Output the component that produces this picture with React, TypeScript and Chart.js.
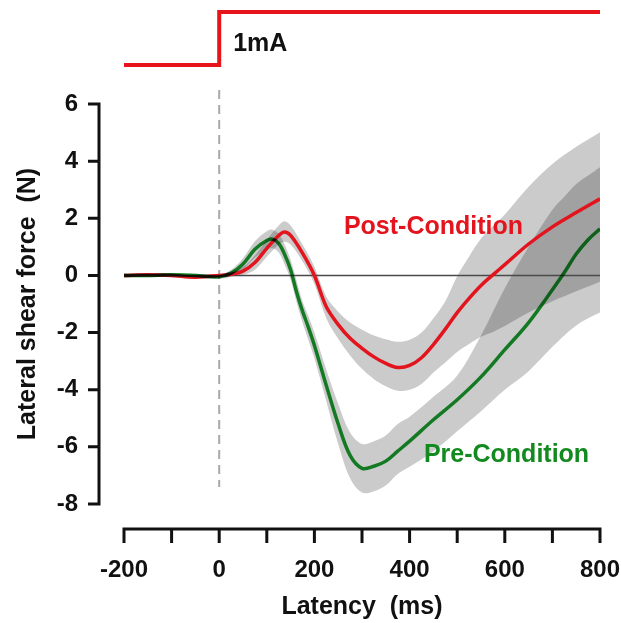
import React, { useEffect, useRef } from 'react';
import { Chart, registerables } from 'chart.js';

Chart.register(...registerables);

// ---- data (latency in ms, lateral shear force in N) ----
const postX = [-200, -150, -100, -50, 0, 25, 50, 75, 100, 125, 137, 150, 175, 200, 225, 250, 275, 300, 325, 350, 375, 400, 425, 450, 475, 500, 525, 550, 575, 600, 650, 700, 750, 800];
const postMean = [0, 0.02, 0, -0.06, 0, 0.04, 0.15, 0.45, 0.95, 1.4, 1.52, 1.4, 0.78, 0, -1.1, -1.72, -2.2, -2.55, -2.85, -3.08, -3.22, -3.15, -2.88, -2.42, -1.88, -1.3, -0.8, -0.35, 0.02, 0.38, 1.1, 1.7, 2.2, 2.68];
const postUpper = [0.06, 0.08, 0.06, 0.0, 0.06, 0.14, 0.3, 0.7, 1.25, 1.75, 1.9, 1.75, 1.08, 0.3, -0.75, -1.27, -1.65, -1.9, -2.1, -2.23, -2.32, -2.25, -2.0, -1.5, -0.9, -0.03, 0.66, 1.29, 1.72, 2.13, 3.1, 3.9, 4.5, 5.01];
const postLower = [-0.06, -0.04, -0.06, -0.12, -0.06, -0.04, 0.02, 0.2, 0.65, 1.08, 1.18, 1.08, 0.5, -0.3, -1.5, -2.22, -2.8, -3.27, -3.63, -3.88, -4.04, -4.0, -3.8, -3.4, -3.05, -2.68, -2.4, -2.15, -1.98, -1.77, -1.3, -0.9, -0.55, -0.22];

const preX = [-200, -150, -100, -50, 0, 25, 50, 75, 100, 112, 125, 137, 150, 162, 175, 187, 200, 225, 250, 275, 300, 325, 350, 375, 400, 450, 500, 550, 600, 650, 700, 725, 750, 775, 800];
const preMean = [0, 0, 0.02, 0, -0.05, 0.08, 0.4, 0.92, 1.22, 1.27, 1.12, 0.75, 0.2, -0.55, -1.25, -1.8, -2.45, -3.85, -5.2, -6.3, -6.75, -6.68, -6.5, -6.15, -5.8, -5.05, -4.35, -3.55, -2.6, -1.65, -0.5, 0.1, 0.75, 1.25, 1.63];
const preUpper = [0.06, 0.06, 0.08, 0.06, 0.02, 0.2, 0.6, 1.2, 1.55, 1.6, 1.45, 1.1, 0.55, -0.15, -0.9, -1.4, -2.0, -3.3, -4.5, -5.5, -5.9, -5.8, -5.6, -5.2, -4.95, -4.25, -3.5, -2.1, -0.45, 1.0, 2.3, 2.75, 3.2, 3.5, 3.79];
const preLower = [-0.06, -0.06, -0.04, -0.06, -0.12, -0.04, 0.2, 0.62, 0.9, 0.95, 0.8, 0.4, -0.15, -0.9, -1.65, -2.25, -2.9, -4.4, -5.9, -7.1, -7.6, -7.55, -7.35, -6.95, -6.7, -6.15, -5.45, -4.75, -4.0, -3.35, -2.5, -2.1, -1.75, -1.5, -1.3];

const zeroX = [-200, 800];
const zeroY = [0, 0];

const xLabelTicks = [-200, 0, 200, 400, 600, 800];
const xMinorTicks = [-200, -100, 0, 100, 200, 300, 400, 500, 600, 700, 800];
const yTicks = [-8, -6, -4, -2, 0, 2, 4, 6];

const stimTimes = [-200, 0, 0, 800];
const stimLevel = [0, 0, 1, 1];
const stimText = '1mA';

const seriesNames = ['Post-Condition', 'Pre-Condition'];
const xTitle = 'Latency  (ms)';
const yTitle = 'Lateral shear force  (N)';

const RED = '#e3141d';
const GREEN = '#17982a';
const LABEL_GREEN = '#138a1f';
const BAND = '#cbcbcb';
const FONT = "'Liberation Sans', Arial, Helvetica, sans-serif";

const pts = (xs: number[], ys: number[]) => xs.map((x, i) => ({ x, y: ys[i] }));

const decor = {
  id: 'decor',
  beforeDatasetsDraw(chart: any) {
    const { ctx, chartArea, scales } = chart;
    const x0 = scales.x.getPixelForValue(stimTimes[1]);
    ctx.save();
    ctx.strokeStyle = '#a9a9a9';
    ctx.lineWidth = 2;
    ctx.setLineDash([9, 6]);
    ctx.beginPath();
    ctx.moveTo(x0, chartArea.top - 14);
    ctx.lineTo(x0, chartArea.bottom - 17);
    ctx.stroke();
    ctx.restore();
    // bands blend with each other (overlap darker)
    ctx.globalCompositeOperation = 'multiply';
  },
  beforeDatasetDraw(chart: any, args: any) {
    if (args.index === 4 || args.index === 5) chart.ctx.globalCompositeOperation = 'source-over';
    if (args.index === 6) chart.ctx.globalCompositeOperation = 'multiply';
  },
  afterDatasetsDraw(chart: any) {
    const { ctx, scales } = chart;
    ctx.globalCompositeOperation = 'source-over';
    const xs = scales.x;
    const ys = scales.y;
    ctx.save();
    ctx.font = `bold 25px ${FONT}`;
    ctx.textBaseline = 'middle';
    ctx.textAlign = 'left';
    ctx.fillStyle = RED;
    ctx.fillText(seriesNames[0], xs.getPixelForValue(262), ys.getPixelForValue(1.7));
    ctx.fillStyle = LABEL_GREEN;
    ctx.fillText(seriesNames[1], xs.getPixelForValue(430), ys.getPixelForValue(-6.3));
    ctx.restore();
  },
  afterDraw(chart: any) {
    const { ctx, chartArea, scales } = chart;
    const xs = scales.x;
    const ys = scales.y;
    ctx.save();
    // y axis (detached)
    const ax = chartArea.left - 25;
    ctx.strokeStyle = '#111';
    ctx.lineWidth = 3;
    ctx.lineCap = 'butt';
    ctx.lineJoin = 'miter';
    const yTop = ys.getPixelForValue(yTicks[yTicks.length - 1]);
    const yBot = ys.getPixelForValue(yTicks[0]);
    ctx.beginPath();
    ctx.moveTo(ax - 11, yTop);
    ctx.lineTo(ax, yTop);
    ctx.lineTo(ax, yBot);
    ctx.lineTo(ax - 11, yBot);
    ctx.stroke();
    ctx.beginPath();
    yTicks.slice(1, -1).forEach((v) => {
      const py = ys.getPixelForValue(v);
      ctx.moveTo(ax - 11, py);
      ctx.lineTo(ax, py);
    });
    ctx.stroke();
    // x axis (detached)
    const ay = chartArea.bottom + 25;
    const xl = xs.getPixelForValue(xMinorTicks[0]);
    const xr = xs.getPixelForValue(xMinorTicks[xMinorTicks.length - 1]);
    ctx.beginPath();
    ctx.moveTo(xl, ay + 14);
    ctx.lineTo(xl, ay);
    ctx.lineTo(xr, ay);
    ctx.lineTo(xr, ay + 14);
    ctx.stroke();
    ctx.beginPath();
    xMinorTicks.slice(1, -1).forEach((v) => {
      const px = xs.getPixelForValue(v);
      ctx.moveTo(px, ay);
      ctx.lineTo(px, ay + 14);
    });
    ctx.stroke();
    // stimulus trace
    const stimY = (l: number) => 65 - l * 53;
    ctx.strokeStyle = '#e8141c';
    ctx.lineWidth = 4;
    ctx.lineJoin = 'miter';
    ctx.beginPath();
    stimTimes.forEach((t, i) => {
      const px = xs.getPixelForValue(t);
      const py = stimY(stimLevel[i]);
      if (i === 0) ctx.moveTo(px, py);
      else ctx.lineTo(px, py);
    });
    ctx.stroke();
    ctx.font = `bold 25px ${FONT}`;
    ctx.fillStyle = '#111';
    ctx.textBaseline = 'middle';
    ctx.textAlign = 'left';
    ctx.fillText(stimText, xs.getPixelForValue(stimTimes[1]) + 14, 44);
    ctx.restore();
  },
};

export default function App() {
  const ref = useRef<HTMLCanvasElement | null>(null);
  useEffect(() => {
    if (!ref.current) return;
    const bandCommon = {
      borderColor: 'rgba(0,0,0,0)',
      borderWidth: 0,
      pointRadius: 0,
      tension: 0.35,
      order: 3,
    };
    const chart = new Chart(ref.current, {
      type: 'line',
      data: {
        datasets: [
          { ...bandCommon, data: pts(postX, postUpper), fill: '+1', backgroundColor: BAND },
          { ...bandCommon, data: pts(postX, postLower), fill: false },
          { ...bandCommon, data: pts(preX, preUpper), fill: '+1', backgroundColor: BAND },
          { ...bandCommon, data: pts(preX, preLower), fill: false },
          { data: pts(zeroX, zeroY), borderColor: '#4a4a4a', borderWidth: 1.5, pointRadius: 0, fill: false, order: 2 },
          { label: seriesNames[0], data: pts(postX, postMean), borderColor: RED, borderWidth: 3.5, pointRadius: 0, fill: false, tension: 0.35, order: 1 },
          { label: seriesNames[1], data: pts(preX, preMean), borderColor: GREEN, borderWidth: 3.5, pointRadius: 0, fill: false, tension: 0.35, order: 0 },
        ] as any,
      },
      options: {
        animation: false,
        responsive: false,
        maintainAspectRatio: false,
        layout: { padding: { top: 104, right: 21, left: 0, bottom: 0 } },
        plugins: { legend: { display: false }, tooltip: { enabled: false } },
        scales: {
          x: {
            type: 'linear',
            min: -200,
            max: 800,
            afterBuildTicks: (s: any) => { s.ticks = xLabelTicks.map((v) => ({ value: v })); },
            afterFit: (s: any) => { s.height = 119; s.paddingLeft = 0; s.paddingRight = 0; },
            grid: { display: false },
            border: { display: false },
            ticks: { padding: 44, autoSkip: false, maxRotation: 0, color: '#111', font: { size: 24, weight: 'bold', family: FONT } },
            title: { display: true, text: xTitle, color: '#111', font: { size: 25, weight: 'bold', family: FONT }, padding: { top: 0, bottom: 1 } },
          },
          y: {
            type: 'linear',
            min: -8,
            max: 6,
            afterBuildTicks: (s: any) => { s.ticks = yTicks.map((v) => ({ value: v })); },
            afterFit: (s: any) => { s.width = 124; s.paddingTop = 0; s.paddingBottom = 0; },
            grid: { display: false },
            border: { display: false },
            ticks: { padding: 38, color: '#111', font: { size: 24, weight: 'bold', family: FONT } },
            title: { display: true, text: yTitle, color: '#111', font: { size: 25, weight: 'bold', family: FONT }, padding: { top: 13, bottom: 0 } },
          },
        },
      } as any,
      plugins: [decor],
    });
    return () => chart.destroy();
  }, []);
  return (
    <div style={{ position: 'fixed', left: 0, top: 0, width: 621, height: 623, background: '#fff' }}>
      <canvas ref={ref} width={621} height={623} style={{ display: 'block' }} />
    </div>
  );
}
